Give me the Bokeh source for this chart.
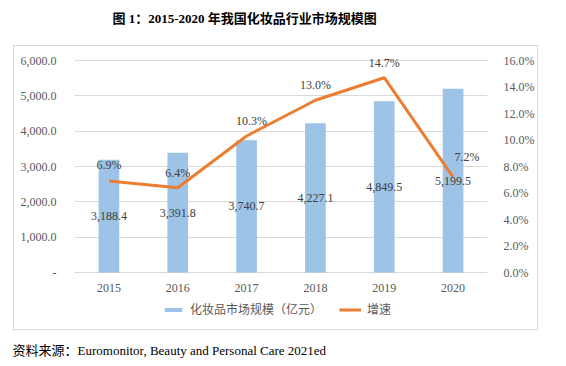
from bokeh.plotting import figure
from bokeh.models import (ColumnDataSource, Range1d, LinearAxis, FixedTicker, NumeralTickFormatter,
                          PrintfTickFormatter, LabelSet, Title, Legend, LegendItem, InlineStyleSheet)
from bokeh.core.properties import value
from bokeh.embed import file_html
from bokeh.resources import INLINE

years = ["2015", "2016", "2017", "2018", "2019", "2020"]
market_size = [3188.4, 3391.8, 3740.7, 4227.1, 4849.5, 5199.5]
growth_pct = [6.9, 6.4, 10.3, 13.0, 14.7, 7.2]
left_ticks = [0, 1000, 2000, 3000, 4000, 5000, 6000]
right_ticks = [0, 2, 4, 6, 8, 10, 12, 14, 16]
title_text = "图 1：2015-2020 年我国化妆品行业市场规模图"
bar_name = "化妆品市场规模（亿元）"
line_name = "增速"
source_text = "资料来源：Euromonitor, Beauty and Personal Care 2021ed"

SERIF = "Liberation Serif, Noto Sans CJK SC"
GREY = "#595959"
BLUE = "#9DC3E6"
ORANGE = "#ED7D31"

W, H = 566, 366
FL, FR, FT, FB = 74, 487, 30, 334   # frame edges on the canvas
GRID_TOP, GRID_BOTTOM = 60, 272      # pixel rows of the highest and the zero gridline
ppx = (GRID_BOTTOM - GRID_TOP)
left_max, right_max = max(left_ticks), max(right_ticks)
left_rng = (-left_max * (FB - GRID_BOTTOM) / ppx, left_max * (GRID_BOTTOM - FT) / ppx)
right_rng = (-right_max * (FB - GRID_BOTTOM) / ppx, right_max * (GRID_BOTTOM - FT) / ppx)

p = figure(x_range=years, y_range=Range1d(*left_rng), width=W, height=H,
           output_backend="svg", toolbar_location=None, x_axis_location=None,
           min_border_left=FL, min_border_right=W - FR, min_border_top=FT, min_border_bottom=H - FB)
p.outline_line_color = None
p.background_fill_color = "white"
p.border_fill_color = "white"
p.extra_y_ranges = {"pct": Range1d(*right_rng)}

# outer chart border drawn around the chart area
p.stylesheets = [InlineStyleSheet(css="""
:host { position: relative; }
:host::after { content: ""; position: absolute; left: 13px; top: 45px; width: 523px; height: 283px;
  border: 1px solid #D9D9D9; pointer-events: none; }
""")]

src = ColumnDataSource(dict(
    year=years,
    zero=[0] * len(years),
    size=market_size,
    size_mid=[v / 2 for v in market_size],
    size_txt=[f"{v:,.1f}" for v in market_size],
    pct=growth_pct,
    pct_txt=[f"{v:.1f}%" for v in growth_pct],
    dx=[0, 0, 5, 0, 0, 14],
    dy=[16, 15, 15, 15, 15, 20],
))

bars = p.vbar(x="year", top="size", width=0.3, source=src, fill_color=BLUE, line_color=None)
line = p.line(x="year", y="pct", source=src, y_range_name="pct", line_color=ORANGE, line_width=3)

# axes
p.yaxis.ticker = FixedTicker(ticks=left_ticks)
p.yaxis.formatter = NumeralTickFormatter(format="0,0.0")
p.yaxis.major_label_overrides = {0: "-"}
p.yaxis.axis_line_color = None
p.yaxis.major_tick_line_color = None
p.yaxis.minor_tick_line_color = None
p.yaxis.major_label_text_font = SERIF
p.yaxis.major_label_text_font_size = "12px"
p.yaxis.major_label_text_color = GREY
p.yaxis.major_label_standoff = 12

ax2 = LinearAxis(y_range_name="pct", ticker=FixedTicker(ticks=right_ticks),
                 formatter=PrintfTickFormatter(format="%.1f%%"))
ax2.axis_line_color = None
ax2.major_tick_line_color = None
ax2.minor_tick_line_color = None
ax2.major_label_text_font = SERIF
ax2.major_label_text_font_size = "12px"
ax2.major_label_text_color = GREY
ax2.major_label_standoff = 10
p.add_layout(ax2, "right")

p.xgrid.grid_line_color = None
p.ygrid.grid_line_color = "#D9D9D9"

# category labels under the zero line
p.add_layout(LabelSet(x="year", y="zero", text="year", source=src, y_offset=-15,
                      text_align="center", text_baseline="middle",
                      text_font=value(SERIF), text_font_size="12px", text_color=GREY))

# data labels
p.add_layout(LabelSet(x="year", y="size_mid", text="size_txt", source=src,
                      text_align="center", text_baseline="middle",
                      text_font=value(SERIF), text_font_size="12px", text_color="#404040"))
p.add_layout(LabelSet(x="year", y="pct", text="pct_txt", source=src, y_range_name="pct",
                      x_offset="dx", y_offset="dy",
                      text_align="center", text_baseline="middle",
                      text_font=value(SERIF), text_font_size="12px", text_color="#404040"))

# title
p.add_layout(Title(text=title_text, align="left", offset=112 - FL, standoff=10,
                   text_font=SERIF, text_font_size="13px", text_font_style="bold",
                   text_color="#000000"), "above")

# legend inside the frame, under the category labels
legend = Legend(items=[LegendItem(label=bar_name, renderers=[bars]),
                       LegendItem(label=line_name, renderers=[line])],
                orientation="horizontal", location=(162 - FL, FB - 318),
                glyph_width=22, glyph_height=5, label_standoff=6, spacing=17, label_height=14,
                label_text_font=SERIF, label_text_font_size="12px", label_text_color=GREY,
                border_line_color=None, background_fill_alpha=0, padding=0, margin=0)
p.add_layout(legend, "center")

# source note
p.add_layout(Title(text=source_text, align="left", offset=12 - FL, standoff=12,
                   text_font=SERIF, text_font_size="13px", text_font_style="normal",
                   text_color="#000000"), "below")

open("out.html", "w").write(file_html(p, INLINE))
